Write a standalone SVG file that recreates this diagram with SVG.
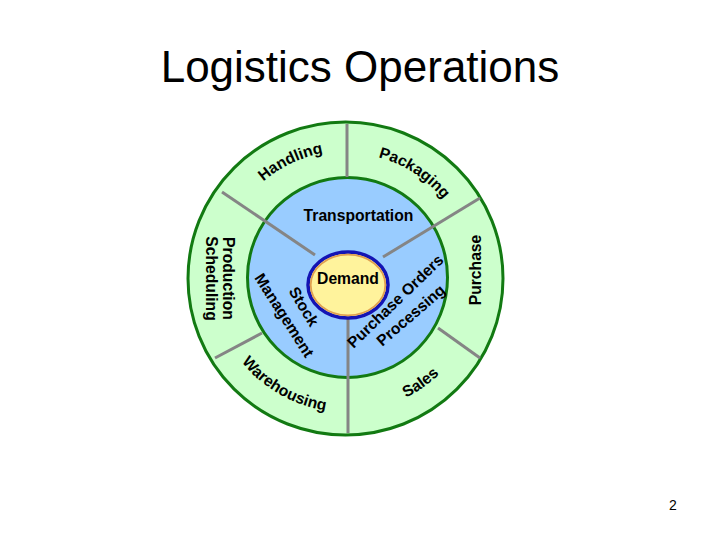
<svg xmlns="http://www.w3.org/2000/svg" width="720" height="540" viewBox="0 0 720 540">
<style>
.t{font-family:"Liberation Sans",Arial,sans-serif;font-weight:bold;font-size:15.7px;fill:#000}
.title{font-family:"Liberation Sans",Arial,sans-serif;font-size:44px;fill:#000}
.div{stroke:#858585;stroke-width:3;fill:none}
</style>
<defs>
<path id="pHand" d="M219.4,268.0 A127,127 0 0 1 417.9,173.3"/>
<path id="pPack" d="M289.3,166.6 A125,125 0 0 1 470.8,284.5"/>
<path id="pWare" d="M212,278 A134,134 0 0 0 413,394.0"/>
<path id="pSales" d="M290.2,399.8 A134,134 0 0 0 479.4,265.4"/>
</defs>
<rect width="720" height="540" fill="#fff"/>
<text class="title" x="360" y="82" text-anchor="middle">Logistics Operations</text>
<g id="outer-ring">
<ellipse cx="345.5" cy="278.5" rx="157.5" ry="156.5" fill="#CCFFCC" stroke="#127A12" stroke-width="3"/>
</g>
<g id="inner-ring">
<circle cx="347.5" cy="277.5" r="100" fill="#99CCFF" stroke="#127A12" stroke-width="3"/>
</g>
<g id="connectors">
<line class="div" x1="347" y1="124" x2="347" y2="177"/>
<line class="div" x1="222" y1="192" x2="315" y2="255"/>
<line class="div" x1="480" y1="198" x2="383" y2="257"/>
<line class="div" x1="215" y1="358" x2="262" y2="333"/>
<line class="div" x1="438" y1="328" x2="480" y2="358"/>
<line class="div" x1="348" y1="318" x2="348" y2="433"/>
</g>
<g id="demand">
<ellipse cx="348" cy="285" rx="40" ry="33" fill="#FFF39C" stroke="#1414B4" stroke-width="3.5"/>
<ellipse cx="348" cy="285" rx="37.3" ry="30.3" fill="none" stroke="#E0A050" stroke-width="1.8"/>
<text class="t" x="348" y="284" text-anchor="middle">Demand</text>
</g>
<g id="transportation">
<text class="t" x="358.5" y="221" text-anchor="middle">Transportation</text>
</g>
<g id="handling">
<text class="t"><textPath href="#pHand" startOffset="50%" text-anchor="middle">Handling</textPath></text>
</g>
<g id="packaging">
<text class="t"><textPath href="#pPack" startOffset="50%" text-anchor="middle">Packaging</textPath></text>
</g>
<g id="purchase">
<text class="t" text-anchor="middle" transform="translate(481,270) rotate(-90)">Purchase</text>
</g>
<g id="sales">
<text class="t"><textPath href="#pSales" startOffset="50%" text-anchor="middle">Sales</textPath></text>
</g>
<g id="warehousing">
<text class="t"><textPath href="#pWare" startOffset="50%" text-anchor="middle">Warehousing</textPath></text>
</g>
<g id="production-scheduling">
<text class="t" text-anchor="middle" transform="translate(223,278.5) rotate(90)">Production</text>
<text class="t" text-anchor="middle" transform="translate(205.5,278.5) rotate(90)">Scheduling</text>
</g>
<g id="stock-management">
<text class="t" text-anchor="middle" transform="translate(299.2,309.4) rotate(59)">Stock</text>
<text class="t" text-anchor="middle" transform="translate(279.8,318.2) rotate(57.6)">Management</text>
</g>
<g id="purchase-orders-processing">
<text class="t" text-anchor="middle" transform="translate(399,305.1) rotate(-44)">Purchase Orders</text>
<text class="t" text-anchor="middle" transform="translate(414.3,319.3) rotate(-40.8)">Processing</text>
</g>
<text x="673" y="510" text-anchor="middle" font-family="Liberation Sans, Arial, sans-serif" font-size="14">2</text>
</svg>
